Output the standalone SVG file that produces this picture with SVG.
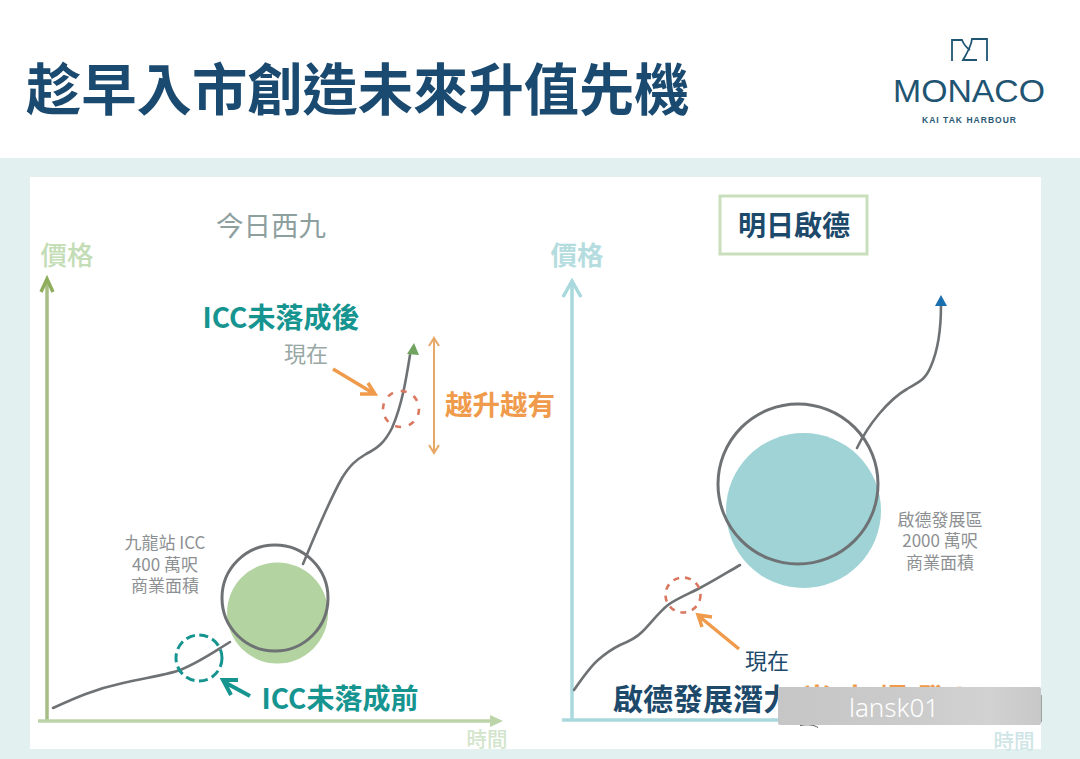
<svg xmlns="http://www.w3.org/2000/svg" width="1080" height="759" viewBox="0 0 1080 759">
<defs>
<linearGradient id="wm" x1="0" y1="0" x2="1" y2="0"><stop offset="0" stop-color="#c6c6c6"/><stop offset=".5" stop-color="#cbcbcb"/><stop offset=".8" stop-color="#d2d2d2"/><stop offset="1" stop-color="#c8c8c8"/></linearGradient>
</defs>
<style>
text{font-family:"Noto Sans CJK TC","Noto Sans",sans-serif}
.c{text-anchor:middle}
.g{fill:none;stroke:#6f7274;stroke-width:2.6;stroke-linecap:round}
.ax{fill:none;stroke-width:3.5}
.gr{fill:#8d9093;font-size:17px;text-anchor:middle}
.latin{font-family:"Liberation Sans",sans-serif}
</style>
<rect width="1080" height="759" fill="#fff"/>
<rect y="158" width="1080" height="601" fill="#e2f1f0"/>
<rect x="30" y="177" width="1011" height="572" fill="#fff"/>
<text id="title" x="26" y="110" font-size="55.300" font-weight="700" fill="#1b4a70">趁早入市創造未來升值先機</text>
<g id="logo">
<path d="M952 61V40H962C964 45 967 48 970 50M987 61V39H972C971 47 967 53 963 60H977" fill="none" stroke="#1f5573" stroke-width="1.800"/>
<text x="969" y="102" class="c latin" font-size="31" fill="#1f5573" textLength="152" lengthAdjust="spacingAndGlyphs">MONACO</text>
<text x="969" y="123" class="c latin" font-size="8.500" font-weight="700" fill="#2a5a75" textLength="94" lengthAdjust="spacing">KAI TAK HARBOUR</text>
</g>
<g id="left-chart">
<text x="271" y="236" class="c" font-size="27.500" fill="#8ea09e">今日西九</text>
<text x="67" y="265" class="c" font-size="26.500" font-weight="500" fill="#c3ddb6">價格</text>
<text x="487" y="747" class="c" font-size="20.500" font-weight="500" fill="#d3e5cc">時間</text>
</g>
<g id="left-circle">
<circle cx="277.500" cy="613" r="50.500" fill="#b3d3a0"/>
<circle cx="275" cy="598" r="53" fill="none" stroke="#6f7274" stroke-width="3"/>
<text x="165" y="549" class="gr">九龍站 ICC</text>
<text x="165" y="571" class="gr">400 萬呎</text>
<text x="165" y="592" class="gr">商業面積</text>
</g>
<g id="left-labels">
<text x="281" y="328" class="c" font-size="28" font-weight="700" fill="#159490">ICC未落成後</text>
<text x="306" y="362" class="c" font-size="22" fill="#98a8a5">現在</text>
<text x="500" y="415" class="c" font-size="27.500" font-weight="700" fill="#ef9b4b">越升越有</text>
<text x="340" y="709" class="c" font-size="28" font-weight="700" fill="#159490">ICC未落成前</text>
</g>
<g id="right-chart">
<rect x="720" y="196" width="147" height="58" fill="#fff" stroke="#c9dfbb" stroke-width="3"/>
<text x="794" y="236" class="c" font-size="28" font-weight="700" fill="#1d4a6b">明日啟德</text>
<text x="577" y="265" class="c" font-size="26.500" font-weight="700" fill="#b5dde0">價格</text>
<text x="1014" y="749" class="c" font-size="20.500" font-weight="500" fill="#cfe5e6">時間</text>
</g>
<g id="right-circle">
<circle cx="803.500" cy="510.500" r="77.500" fill="#9fd3d6"/>
<circle cx="798" cy="484" r="80" fill="none" stroke="#6f7274" stroke-width="3"/>
<text x="940" y="526" class="gr">啟德發展區</text>
<text x="940" y="547" class="gr">2000 萬呎</text>
<text x="940" y="569" class="gr">商業面積</text>
</g>
<g id="right-labels">
<text x="767" y="669" class="c" font-size="22" fill="#1d4a6b">現在</text>
<text x="613" y="710" font-size="30" font-weight="700" fill="#1d4a6b">啟德發展潛力<tspan fill="#ef9b4b" dx="9" letter-spacing="8">尚未爆發!</tspan></text>
</g>
<g id="connectors">
<path class="ax" stroke="#a7bd84" d="M47 722V282"/><path d="M41 292L47 279L53 292" fill="none" stroke="#8fae5c" stroke-width="3.500"/>
<path class="ax" stroke="#bcd4a8" d="M38 721H498"/><path d="M490 715L503 721L490 727Z" fill="#bcd4a8"/>
<path class="ax" stroke="#a9d9dc" d="M572 720V284"/><path d="M563 297L572 281L581 297" fill="none" stroke="#a9d9dc" stroke-width="3.500"/>
<path class="ax" stroke="#a9d9dc" d="M562 720H1040"/>
<path class="g" d="M53 708C75 698 95 689 123 683C145 678 165 675 177 671C195 665 212 653 230 642"/>
<path class="g" d="M303 564C315 535 328 503 342 478C350 465 356 460 366 454C378 448 385 442 392 428C402 405 406 380 410 355"/>
<path d="M407 354L414 343L419 355Z" fill="#6fa35f"/>
<path class="g" d="M574 690C583 677 590 667 598 660C606 653 612 649 620 645C630 641 636 638 642 632C650 624 660 611 668 605C676 599 686 595 698 589C712 582 726 573 740 565"/>
<path class="g" d="M857 448C868 425 888 400 907 389C918 382 925 381 931 366C938 350 941 330 941 305"/>
<path d="M935 306L941 295L947 306Z" fill="#1a6fae"/>
<circle cx="199" cy="658" r="23" fill="none" stroke="#159490" stroke-width="3" stroke-dasharray="9 4.500"/>
<circle cx="401" cy="409" r="18" fill="none" stroke="#d9785f" stroke-width="2.600" stroke-dasharray="6 8"/>
<circle cx="683" cy="595" r="17.500" fill="none" stroke="#d9785f" stroke-width="2.600" stroke-dasharray="6 6"/>
<path d="M250 696L226 683M238 680H223L231 695" fill="none" stroke="#159490" stroke-width="4"/>
<path d="M333 369L373 393M360 394L375 394L368 383" fill="none" stroke="#ef9b4b" stroke-width="3.500"/>
<path d="M739 649L700 617M712 617L698 615L702 627" fill="none" stroke="#ef9b4b" stroke-width="3.500"/>
<path d="M434 339V452M429 346L434 338L439 346M429 445L434 453L439 445" fill="none" stroke="#e8a868" stroke-width="2"/>
</g>
<g id="watermark">
<path d="M800 725.500C808 724 814 725 818 727.500M1041 695V722" fill="none" stroke="#555" stroke-width="1"/>
<rect x="778" y="687" width="263" height="38" rx="2" fill="url(#wm)"/>
<text x="894" y="717" class="c" font-size="26" fill="#fff" style="font-family:'Noto Sans',sans-serif;font-weight:300">lansk01</text>
</g>
</svg>
